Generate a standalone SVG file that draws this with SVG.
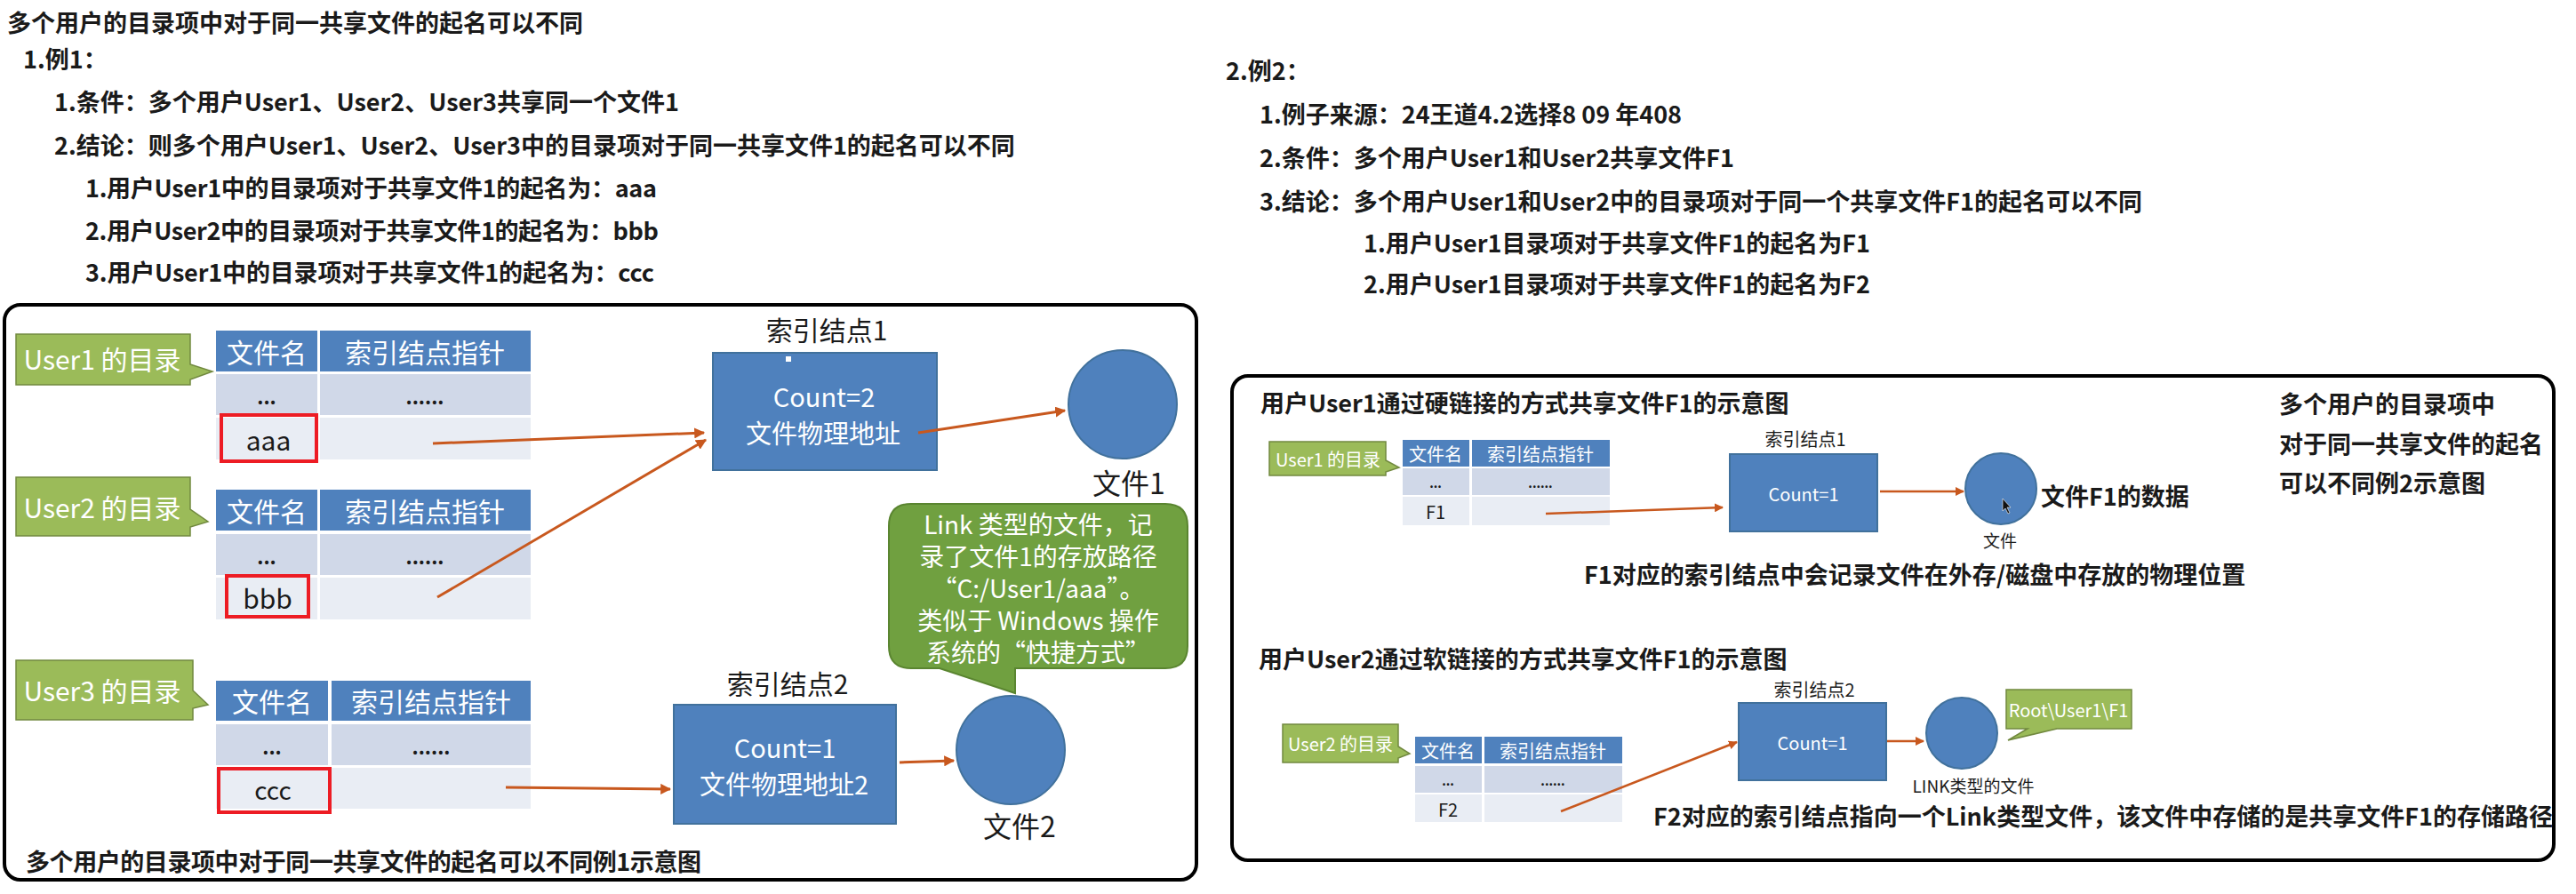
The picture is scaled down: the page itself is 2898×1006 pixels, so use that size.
<svg xmlns="http://www.w3.org/2000/svg" width="2898" height="1006" viewBox="0 0 2898 1006">
<defs>
<style>
.t{font-family:"Noto Sans CJK SC","Noto Sans",sans-serif;font-weight:700;font-size:27px;fill:#1a1a1a;dominant-baseline:central}
.n{font-family:"Noto Sans CJK SC","Noto Sans",sans-serif;font-weight:400;fill:#1a1a1a;dominant-baseline:central;text-anchor:middle}
.wt{fill:#ffffff}
.hdr{fill:#4f81bd}
.r1{fill:#d0d8e8}
.r2{fill:#e9edf4}
.lbl{fill:#9bbb59;stroke:#71893f;stroke-width:1.5}
.node{fill:#4f81bd;stroke:#41719c;stroke-width:2}
.red{fill:none;stroke:#ed1c24;stroke-width:4}
.frame{fill:#ffffff;stroke:#000000;stroke-width:4}
.con{stroke:#c8581e;stroke-width:3;fill:none;marker-end:url(#ah)}
.con2{stroke:#c8581e;stroke-width:2.5;fill:none;marker-end:url(#ah)}
.dots{font-family:"Noto Sans CJK SC","Noto Sans",sans-serif;font-weight:700;fill:#1a1a1a;text-anchor:middle}
</style>
<marker id="ah" viewBox="0 0 10 10" refX="9" refY="5" markerWidth="4" markerHeight="4" orient="auto" markerUnits="strokeWidth">
<path d="M0,0 L10,5 L0,10 Z" fill="#c8581e"/>
</marker>
</defs>
<rect width="2898" height="1006" fill="#ffffff"/>

<!-- top-left text -->
<g id="text-left">
<text class="t" x="8" y="24">多个用户的目录项中对于同一共享文件的起名可以不同</text>
<text class="t" x="26" y="65">1.例1：</text>
<text class="t" x="61" y="113">1.条件：多个用户User1、User2、User3共享同一个文件1</text>
<text class="t" x="61" y="162">2.结论：则多个用户User1、User2、User3中的目录项对于同一共享文件1的起名可以不同</text>
<text class="t" x="96" y="210" textLength="643" lengthAdjust="spacing">1.用户User1中的目录项对于共享文件1的起名为：aaa</text>
<text class="t" x="96" y="258" textLength="645" lengthAdjust="spacing">2.用户User2中的目录项对于共享文件1的起名为：bbb</text>
<text class="t" x="96" y="305" textLength="640" lengthAdjust="spacing">3.用户User1中的目录项对于共享文件1的起名为：ccc</text>
</g>

<!-- top-right text -->
<g id="text-right">
<text class="t" x="1379" y="78">2.例2：</text>
<text class="t" x="1417" y="127">1.例子来源：24王道4.2选择8 09 年408</text>
<text class="t" x="1417" y="176">2.条件：多个用户User1和User2共享文件F1</text>
<text class="t" x="1417" y="225">3.结论：多个用户User1和User2中的目录项对于同一个共享文件F1的起名可以不同</text>
<text class="t" x="1534" y="272">1.用户User1目录项对于共享文件F1的起名为F1</text>
<text class="t" x="1534" y="318">2.用户User1目录项对于共享文件F1的起名为F2</text>
</g>

<!-- frames -->
<rect id="frame-left" class="frame" x="5" y="343" width="1341" height="647" rx="18"/>
<rect id="frame-right" class="frame" x="1386" y="423" width="1487" height="545" rx="18"/>

<!-- ===== Example 1 ===== -->
<g id="user1-dir">
<path class="lbl" d="M18,376 H214 V410 L239,418 L214,427 V433 H18 Z"/>
<text class="n wt" x="115" y="403" font-size="30">User1 的目录</text>
</g>
<g id="table1">
<rect class="hdr" x="243" y="372" width="114" height="46"/>
<rect class="hdr" x="360" y="372" width="237" height="46"/>
<rect class="r1" x="243" y="421" width="114" height="46"/>
<rect class="r1" x="360" y="421" width="237" height="46"/>
<rect class="r2" x="243" y="470" width="114" height="47"/>
<rect class="r2" x="360" y="470" width="237" height="47"/>
<text class="n wt" x="300" y="395" font-size="30">文件名</text>
<text class="n wt" x="478" y="395" font-size="30">索引结点指针</text>
<text class="dots" x="300" y="455" font-size="22">...</text>
<text class="dots" x="478" y="455" font-size="22">......</text>
<text class="n" x="302" y="494" font-size="30">aaa</text>
<rect class="red" x="249" y="467" width="107" height="52"/>
</g>

<g id="user2-dir">
<path class="lbl" d="M18,537 H214 V573 L234,587 L214,593 V603 H18 Z"/>
<text class="n wt" x="115" y="570" font-size="30">User2 的目录</text>
</g>
<g id="table2">
<rect class="hdr" x="243" y="551" width="114" height="46"/>
<rect class="hdr" x="360" y="551" width="237" height="46"/>
<rect class="r1" x="243" y="601" width="114" height="46"/>
<rect class="r1" x="360" y="601" width="237" height="46"/>
<rect class="r2" x="243" y="650" width="114" height="47"/>
<rect class="r2" x="360" y="650" width="237" height="47"/>
<text class="n wt" x="300" y="574" font-size="30">文件名</text>
<text class="n wt" x="478" y="574" font-size="30">索引结点指针</text>
<text class="dots" x="300" y="635" font-size="22">...</text>
<text class="dots" x="478" y="635" font-size="22">......</text>
<text class="n" x="301" y="672" font-size="30">bbb</text>
<rect class="red" x="255" y="648" width="92" height="46"/>
</g>

<g id="user3-dir">
<path class="lbl" d="M18,743 H217 V777 L234,793 L217,797 V810 H18 Z"/>
<text class="n wt" x="115" y="776" font-size="30">User3 的目录</text>
</g>
<g id="table3">
<rect class="hdr" x="243" y="766" width="126" height="45"/>
<rect class="hdr" x="373" y="766" width="224" height="45"/>
<rect class="r1" x="243" y="815" width="126" height="46"/>
<rect class="r1" x="373" y="815" width="224" height="46"/>
<rect class="r2" x="243" y="864" width="126" height="46"/>
<rect class="r2" x="373" y="864" width="224" height="46"/>
<text class="n wt" x="306" y="788" font-size="30">文件名</text>
<text class="n wt" x="485" y="788" font-size="30">索引结点指针</text>
<text class="dots" x="306" y="849" font-size="22">...</text>
<text class="dots" x="485" y="849" font-size="22">......</text>
<text class="n" x="307" y="888" font-size="28">ccc</text>
<rect class="red" x="246" y="865" width="125" height="49"/>
</g>

<g id="inode1">
<text class="n" x="930" y="370" font-size="30">索引结点1</text>
<rect class="node" x="802" y="397" width="252" height="132"/>
<rect x="884" y="401" width="6" height="6" fill="#ffffff"/>
<text class="n wt" x="927" y="445" font-size="29">Count=2</text>
<text class="n wt" x="926" y="486" font-size="29">文件物理地址</text>
</g>
<g id="file1">
<circle class="node" cx="1263" cy="455" r="61"/>
<text class="n" x="1270" y="542" font-size="32">文件1</text>
</g>

<g id="inode2">
<text class="n" x="886" y="768" font-size="30">索引结点2</text>
<rect class="node" x="758" y="793" width="250" height="134"/>
<text class="n wt" x="883" y="840" font-size="29">Count=1</text>
<text class="n wt" x="882" y="881" font-size="29">文件物理地址2</text>
</g>
<g id="file2">
<circle class="node" cx="1137" cy="844" r="61"/>
<text class="n" x="1147" y="928" font-size="32">文件2</text>
</g>

<g id="link-callout">
<path d="M1025,567 H1311 Q1336,567 1336,592 V727 Q1336,752 1311,752 H1142 V780 L1057,752 H1025 Q1000,752 1000,727 V592 Q1000,567 1025,567 Z" fill="#70a040" stroke="#5a8530" stroke-width="2"/>
<text class="n wt" x="1168" y="589" font-size="28">Link 类型的文件，记</text>
<text class="n wt" x="1168" y="625" font-size="28">录了文件1的存放路径</text>
<text class="n wt" x="1168" y="661" font-size="28">“C:/User1/aaa”。</text>
<text class="n wt" x="1168" y="697" font-size="28">类似于 Windows 操作</text>
<text class="n wt" x="1168" y="733" font-size="28">系统的“快捷方式”</text>
</g>

<text class="t" x="29" y="968" textLength="760" lengthAdjust="spacing">多个用户的目录项中对于同一共享文件的起名可以不同例1示意图</text>

<!-- ===== Example 2 ===== -->
<text class="t" x="1418" y="452">用户User1通过硬链接的方式共享文件F1的示意图</text>
<g id="r-user1-dir">
<path class="lbl" d="M1428,497 H1559 V518 L1574,526 L1559,531 V535 H1428 Z"/>
<text class="n wt" x="1494" y="516" font-size="20">User1 的目录</text>
</g>
<g id="r-table1">
<rect class="hdr" x="1578" y="495" width="75" height="30"/>
<rect class="hdr" x="1656" y="495" width="155" height="30"/>
<rect class="r1" x="1578" y="527" width="75" height="30"/>
<rect class="r1" x="1656" y="527" width="155" height="30"/>
<rect class="r2" x="1578" y="559" width="75" height="32"/>
<rect class="r2" x="1656" y="559" width="155" height="32"/>
<text class="n wt" x="1615" y="510" font-size="20">文件名</text>
<text class="n wt" x="1733" y="510" font-size="20">索引结点指针</text>
<text class="dots" x="1615" y="549" font-size="14">...</text>
<text class="dots" x="1733" y="549" font-size="14">......</text>
<text class="n" x="1615" y="575" font-size="20">F1</text>
</g>
<g id="r-inode1">
<text class="n" x="2031" y="493" font-size="20">索引结点1</text>
<rect class="node" x="1946" y="511" width="166" height="87"/>
<text class="n wt" x="2029" y="555" font-size="20">Count=1</text>
</g>
<g id="r-file1">
<circle class="node" cx="2251" cy="550" r="40"/>
<path d="M2253,561 L2253,575 L2256,572 L2259,578 L2261,577 L2258,571 L2262,571 Z" fill="#111" stroke="#fff" stroke-width="0.6"/>
<text class="n" x="2250" y="607" font-size="19">文件</text>
<text class="t" x="2296" y="557">文件F1的数据</text>
</g>
<text class="t" x="1782" y="645">F1对应的索引结点中会记录文件在外存/磁盘中存放的物理位置</text>

<g id="r-caption">
<text class="t" x="2564" y="453">多个用户的目录项中</text>
<text class="t" x="2564" y="498">对于同一共享文件的起名</text>
<text class="t" x="2564" y="542">可以不同例2示意图</text>
</g>

<text class="t" x="1416" y="740">用户User2通过软链接的方式共享文件F1的示意图</text>
<g id="r-user2-dir">
<path class="lbl" d="M1443,815 H1573 V840 L1586,848 L1573,853 V858 H1443 Z"/>
<text class="n wt" x="1508" y="836" font-size="20">User2 的目录</text>
</g>
<g id="r-table2">
<rect class="hdr" x="1592" y="829" width="75" height="30"/>
<rect class="hdr" x="1670" y="829" width="155" height="30"/>
<rect class="r1" x="1592" y="862" width="75" height="30"/>
<rect class="r1" x="1670" y="862" width="155" height="30"/>
<rect class="r2" x="1592" y="894" width="75" height="31"/>
<rect class="r2" x="1670" y="894" width="155" height="31"/>
<text class="n wt" x="1629" y="844" font-size="20">文件名</text>
<text class="n wt" x="1747" y="844" font-size="20">索引结点指针</text>
<text class="dots" x="1629" y="884" font-size="14">...</text>
<text class="dots" x="1747" y="884" font-size="14">......</text>
<text class="n" x="1629" y="910" font-size="20">F2</text>
</g>
<g id="r-inode2">
<text class="n" x="2041" y="775" font-size="20">索引结点2</text>
<rect class="node" x="1956" y="791" width="166" height="87"/>
<text class="n wt" x="2039" y="835" font-size="20">Count=1</text>
</g>
<g id="r-file2">
<circle class="node" cx="2207" cy="825" r="40"/>
<text class="n" x="2220" y="883" font-size="19">LINK类型的文件</text>
</g>
<g id="r-path-callout">
<path d="M2257,776 H2398 V820 H2314 L2259,833 L2281,820 H2257 Z" fill="#9bbb59" stroke="#71893f" stroke-width="1.5"/>
<text class="n wt" x="2327" y="798" font-size="20">Root\User1\F1</text>
</g>
<text class="t" x="1860" y="917">F2对应的索引结点指向一个Link类型文件，该文件中存储的是共享文件F1的存储路径</text>

<!-- connectors -->
<g id="connectors">
<line class="con" x1="487" y1="499" x2="792" y2="487"/>
<line class="con" x1="492" y1="672" x2="794" y2="495"/>
<line class="con" x1="1033" y1="487" x2="1198" y2="462"/>
<line class="con" x1="569" y1="886" x2="754" y2="888"/>
<line class="con" x1="1012" y1="858" x2="1073" y2="856"/>
<line class="con2" x1="1739" y1="578" x2="1938" y2="571"/>
<line class="con2" x1="2115" y1="553" x2="2209" y2="553"/>
<line class="con2" x1="1756" y1="913" x2="1954" y2="835"/>
<line class="con2" x1="2123" y1="834" x2="2164" y2="834"/>
</g>
</svg>
